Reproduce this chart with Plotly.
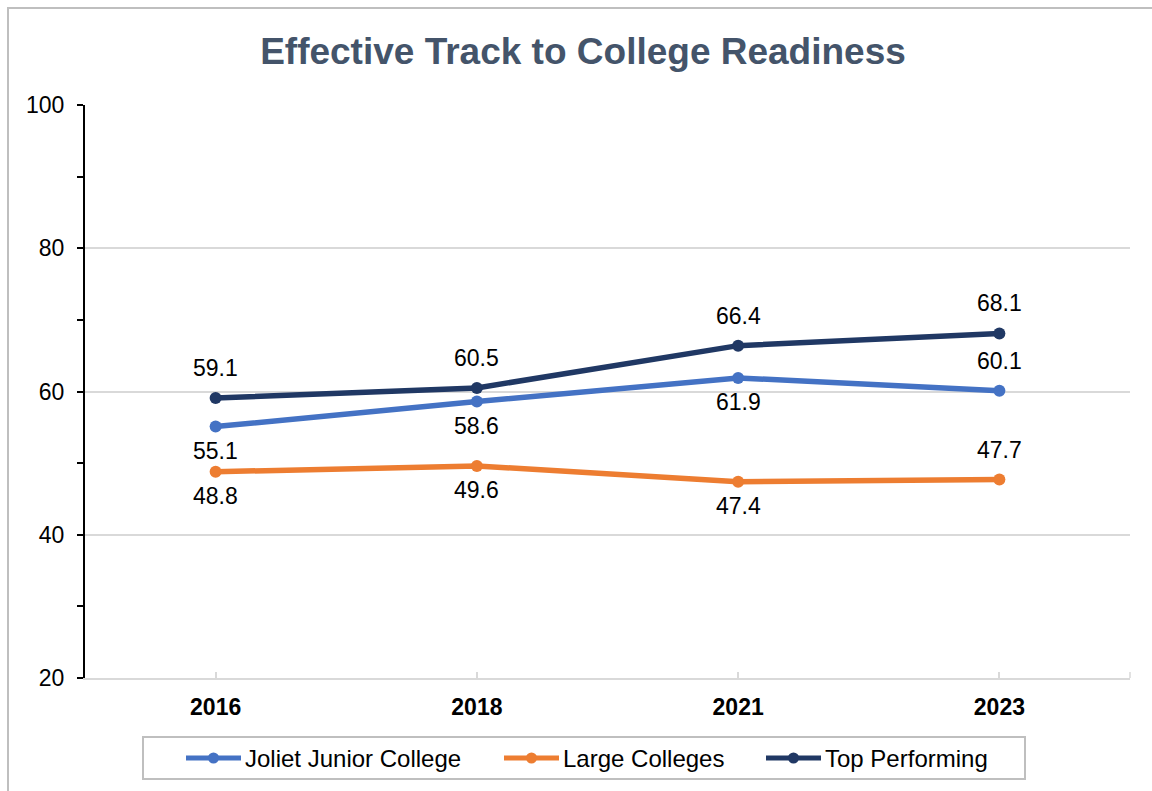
import plotly.graph_objects as go

# ---- data ----
years = ["2016", "2018", "2021", "2023"]
joliet = [55.1, 58.6, 61.9, 60.1]
large_colleges = [48.8, 49.6, 47.4, 47.7]
top_performing = [59.1, 60.5, 66.4, 68.1]

series_names = ["Joliet Junior College", "Large Colleges", "Top Performing"]
series_values = [joliet, large_colleges, top_performing]
series_colors = ["#4472C4", "#ED7D31", "#203864"]
# which side of each point its value label sits on
label_sides = [
    ["below", "below", "below", "above"],
    ["below", "below", "below", "above"],
    ["above", "above", "above", "above"],
]

W, H = 1152, 791
L, R, T, B = 85, 22, 105, 113
PW, PH = W - L - R, H - T - B


def px_x(x):
    return (x - L) / PW


def px_y(y):
    return (H - B - y) / PH


FONT = "Liberation Sans, Arial, sans-serif"

fig = go.Figure()
for name, vals, color in zip(series_names, series_values, series_colors):
    fig.add_trace(go.Scatter(
        x=years, y=vals, name=name, mode="lines+markers",
        line=dict(color=color, width=5.5),
        marker=dict(color=color, size=12),
        showlegend=False, hoverinfo="x+y+name",
    ))

# value labels (category axis positions given by index)
annotations = []
for vals, sides in zip(series_values, label_sides):
    for i, (v, side) in enumerate(zip(vals, sides)):
        annotations.append(dict(
            x=i, y=v, xref="x", yref="y", text=f"{v:.1f}", showarrow=False,
            font=dict(family=FONT, size=23, color="#000000"),
            xanchor="center", yanchor="middle",
            yshift=30 if side == "above" else -24,
        ))

shapes = []
# outer chart frame
shapes.append(dict(type="rect", xref="paper", yref="paper",
                   x0=px_x(8), x1=px_x(1170), y0=px_y(810), y1=px_y(8),
                   line=dict(color="#BFBFBF", width=2), layer="below"))
# closing tick at the right end of the category axis
shapes.append(dict(type="line", xref="paper", yref="paper",
                   x0=1, x1=1, y0=0, y1=px_y(H - B - 6),
                   line=dict(color="#D9D9D9", width=1.5)))

# legend box and entries
shapes.append(dict(type="rect", xref="paper", yref="paper",
                   x0=px_x(143), x1=px_x(1025), y0=px_y(779), y1=px_y(737),
                   line=dict(color="#BFBFBF", width=2), fillcolor="white"))
legend_starts = [186, 504, 766]
leg_y = 758
for name, color, x0 in zip(series_names, series_colors, legend_starts):
    shapes.append(dict(type="line", xref="paper", yref="paper",
                       x0=px_x(x0), x1=px_x(x0 + 55), y0=px_y(leg_y), y1=px_y(leg_y),
                       line=dict(color=color, width=5)))
    shapes.append(dict(type="circle", xref="paper", yref="paper",
                       x0=px_x(x0 + 22), x1=px_x(x0 + 33),
                       y0=px_y(leg_y + 5.5), y1=px_y(leg_y - 5.5),
                       line=dict(color=color, width=0), fillcolor=color))
    annotations.append(dict(
        x=px_x(x0 + 57), y=px_y(leg_y), xref="paper", yref="paper",
        text=name, showarrow=False, xanchor="left", yanchor="middle",
        font=dict(family=FONT, size=24, color="#000000"),
    ))

fig.update_layout(
    width=W, height=H, autosize=False,
    margin=dict(l=L, r=R, t=T, b=B, pad=0),
    paper_bgcolor="white", plot_bgcolor="white",
    title=dict(text="<b>Effective Track to College Readiness</b>",
               x=583 / W, xref="container", xanchor="center",
               y=1 - 51 / H, yref="container", yanchor="middle",
               font=dict(family=FONT, size=37, color="#44546A")),
    font=dict(family=FONT, color="#000000"),
    showlegend=False,
    shapes=shapes,
    annotations=annotations,
)

fig.update_xaxes(
    type="category", range=[-0.5, 3.5],
    showline=True, linecolor="#D9D9D9", linewidth=1.5,
    ticks="inside", ticklen=6, tickcolor="#D9D9D9", tickwidth=1.5,
    showgrid=False, zeroline=False,
    tickfont=dict(family=FONT, size=23, color="#000000", weight="bold"),
    ticklabelstandoff=8,
)

fig.update_yaxes(
    range=[20, 100], dtick=20, tick0=20,
    showline=True, linecolor="#000000", linewidth=2,
    ticks="outside", ticklen=6, tickcolor="#000000", tickwidth=2,
    showgrid=True, gridcolor="#D9D9D9", gridwidth=1.5,
    zeroline=False,
    minor=dict(dtick=10, ticks="outside", ticklen=6, tickcolor="#000000",
               tickwidth=2, showgrid=False),
    tickfont=dict(family=FONT, size=23, color="#000000"),
    ticklabelstandoff=8,
)

fig.write_html("out.html")
